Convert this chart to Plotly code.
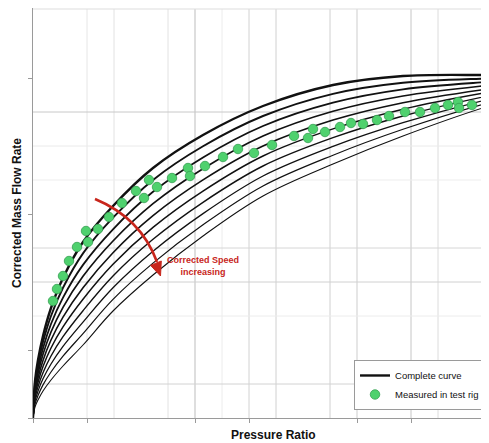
import plotly.graph_objects as go

# Pressure ratio positions (axis units) at which each speed line was read
pr_points = [0, 2, 5, 10, 18, 30, 50, 80, 120, 170, 230, 300, 370, 456, 500]

# Corrected mass flow read for each speed line (top = lowest speed ... bottom)
speed_01 = [0, 37.0, 58.0, 82.0, 110, 140.0, 176.0, 212.0, 250.0, 283.0, 312, 333.0, 342.0, 343.0, 343.0]
speed_02 = [0, 34.1, 53.6, 75.9, 102, 130.2, 164.6, 200.3, 238.1, 271.8, 302, 324.2, 335.3, 339.6, 340.9]
speed_03 = [0, 31.2, 49.1, 69.8, 94, 120.4, 153.1, 188.7, 226.2, 260.6, 292, 315.4, 328.7, 336.1, 338.8]
speed_04 = [0, 28.3, 44.7, 63.7, 86, 110.7, 141.7, 177.0, 214.3, 249.3, 282, 306.7, 322.0, 332.7, 336.7]
speed_05 = [0, 25.4, 40.2, 57.6, 78, 100.9, 130.2, 165.3, 202.4, 238.1, 272, 297.9, 315.3, 329.2, 334.6]
speed_06 = [0, 22.6, 35.8, 51.4, 70, 91.1, 118.8, 153.7, 190.6, 226.9, 262, 289.1, 308.7, 325.8, 332.4]
speed_07 = [0, 19.7, 31.3, 45.3, 62, 81.3, 107.3, 142.0, 178.7, 215.7, 252, 280.3, 302.0, 322.3, 330.3]
speed_08 = [0, 16.8, 26.9, 39.2, 54, 71.6, 95.9, 130.3, 166.8, 204.4, 242, 271.6, 295.3, 318.9, 328.2]
speed_09 = [0, 13.9, 22.4, 33.1, 46, 61.8, 84.4, 118.7, 154.9, 193.2, 232, 262.8, 288.7, 315.4, 326.1]
speed_10 = [0, 11.0, 18.0, 27.0, 38, 52.0, 73.0, 107.0, 143.0, 182.0, 222, 254.0, 282.0, 312.0, 324.0]
speed_lines = [speed_01, speed_02, speed_03, speed_04, speed_05,
               speed_06, speed_07, speed_08, speed_09, speed_10]

# Measured test-rig points
rig_pr = [20, 24, 30, 36, 44, 53, 55, 65, 76, 89, 103, 111, 116, 124, 139, 155, 157, 172,
          190, 205, 221, 239, 261, 275, 280, 292, 307, 318, 330, 344, 356, 372, 387, 402,
          415, 425, 426, 439, 454]
rig_flow = [117, 129, 142, 157, 171, 187, 176, 189, 201, 215, 227, 220, 238, 231, 240, 250,
            242, 252, 261, 269, 265, 273, 282, 280, 289, 286, 291, 295, 294, 298, 302, 306,
            306, 310, 313, 316, 310, 313, 316]

FONT = "Liberation Sans, Arial, sans-serif"
line_widths = [2.4, 1.9, 1.8, 1.7, 1.6, 1.5, 1.4, 1.3, 1.2, 1.1]

fig = go.Figure()
for i, flow in enumerate(speed_lines):
    fig.add_trace(go.Scatter(
        x=pr_points, y=flow, mode="lines",
        line=dict(color="#111111", width=line_widths[i], shape="spline", smoothing=1.0),
        name="Complete curve", showlegend=(i == 0), hoverinfo="skip"))

fig.add_trace(go.Scatter(
    x=rig_pr, y=rig_flow, mode="markers", name="Measured in test rig",
    marker=dict(size=9.5, color="#4FD16E", line=dict(color="#35A052", width=0.8))))

shapes = []
# vertical grid lines (irregular, as in reference)
vgrid = [(54, "#e6e6e6"), (81, "#e2e2e2"), (135, "#e2e2e2"), (162, "#bdbdbd"),
         (189, "#ececec"), (216, "#d2d2d2"), (243, "#d0d0d0"), (297, "#d0d0d0"),
         (324, "#cdcdcd"), (378, "#c6c6c6"), (405, "#dcdcdc")]
for x, c in vgrid:
    shapes.append(dict(type="line", xref="x", yref="y", x0=x, x1=x, y0=0, y1=409,
                       line=dict(color=c, width=1), layer="below"))
hgrid = [(34, "#d2d2d2"), (102, "#ececec"), (136, "#d0d0d0"), (170, "#d6d6d6"),
         (238, "#ededed"), (272, "#eaeaea"), (306, "#c8c8c8")]
for y, c in hgrid:
    shapes.append(dict(type="line", xref="x", yref="y", x0=0, x1=456, y0=y, y1=y,
                       line=dict(color=c, width=1), layer="below"))
# top border
shapes.append(dict(type="line", xref="x", yref="y", x0=0, x1=456, y0=409, y1=409,
                   line=dict(color="#dddddd", width=1), layer="below"))
# legend drop shadow
shapes.append(dict(type="rect", xref="x", yref="y", x0=324, x1=453, y0=9.5, y1=55,
                   fillcolor="#c4c4c4", line=dict(width=0), layer="above"))
# red curved arrow
shapes.append(dict(type="path", xref="x", yref="y",
                   path="M 62,219 Q 108,200 124,156",
                   line=dict(color="#C8261C", width=2.6)))
shapes.append(dict(type="path", xref="x", yref="y",
                   path="M 127.5,142 L 128.3,157 L 117.6,152.6 Z",
                   fillcolor="#C8261C", line=dict(color="#C8261C", width=1)))

# The page body adds an 8px offset, so the figure is 8px smaller than the window
fig.update_layout(
    width=481, height=435,
    margin=dict(l=25, r=0, t=0, b=25),
    paper_bgcolor="white", plot_bgcolor="white",
    shapes=shapes,
    showlegend=True,
    legend=dict(x=0.704, y=0.1415, xanchor="left", yanchor="top",
                bgcolor="white", bordercolor="#9a9a9a", borderwidth=1,
                font=dict(family=FONT, size=9.5, color="#111"),
                itemwidth=30, tracegroupgap=0),
    xaxis=dict(range=[0, 456], showgrid=False, zeroline=False, showline=True,
               linecolor="#9a9a9a", linewidth=1, ticks="outside", ticklen=4,
               tickcolor="#9a9a9a", tickvals=[0, 54, 162, 216, 324, 378],
               showticklabels=False, fixedrange=True),
    yaxis=dict(range=[0, 410], showgrid=False, zeroline=False, showline=True,
               linecolor="#9a9a9a", linewidth=1, ticks="outside", ticklen=4,
               tickcolor="#9a9a9a", tickvals=[0, 68, 204, 340],
               showticklabels=False, fixedrange=True),
    annotations=[
        dict(text="<b>Pressure Ratio</b>", xref="paper", yref="paper",
             x=0.5285, y=-0.0415, xanchor="center", yanchor="middle",
             showarrow=False, font=dict(family=FONT, size=12, color="#111")),
        dict(text="<b>Corrected Mass Flow Rate</b>", xref="paper", yref="paper",
             x=-0.035, y=0.5, xanchor="center", yanchor="middle",
             textangle=-90, showarrow=False,
             font=dict(family=FONT, size=12, color="#111")),
        dict(text="<b>Corrected Speed<br>increasing</b>", xref="x", yref="y",
             x=170, y=152, xanchor="center", yanchor="middle", showarrow=False,
             font=dict(family=FONT, size=9, color="#C8261C")),
    ],
)

fig.write_html("out.html")
